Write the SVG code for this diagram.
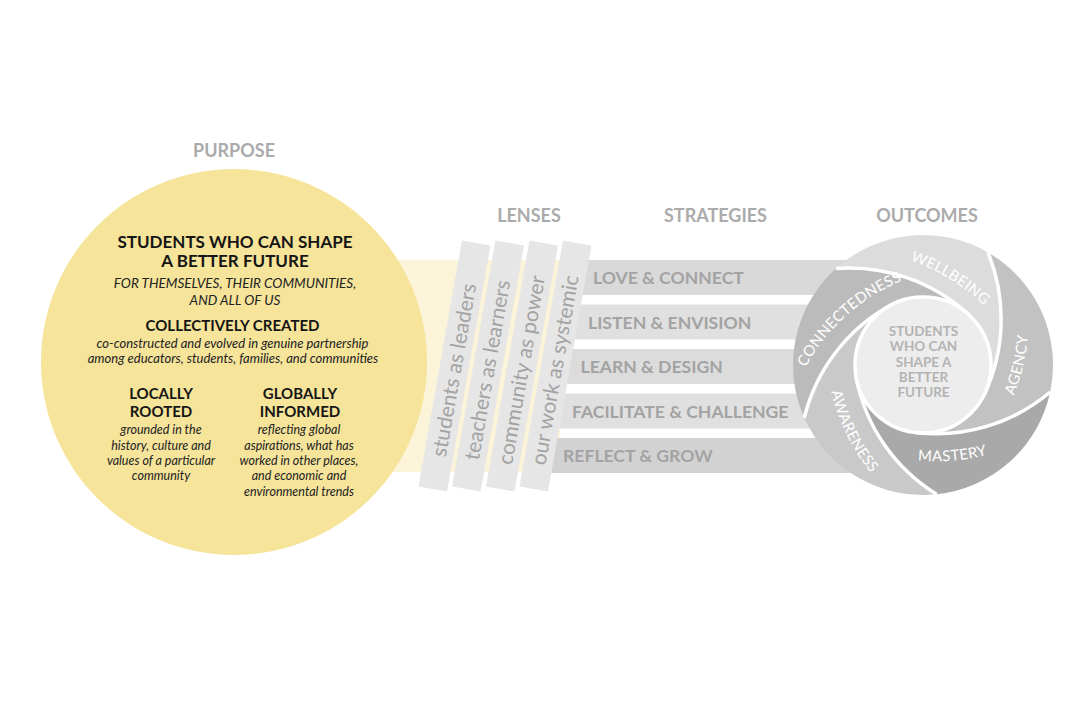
<svg xmlns="http://www.w3.org/2000/svg" width="1090" height="727" viewBox="0 0 1090 727">
<style>
text{font-family:Lato,"Open Sans","Liberation Sans",sans-serif}
.hdr{font-size:18px;font-weight:700;fill:#ABABAB;text-anchor:middle}
.t1{font-size:17px;font-weight:700;fill:#151515;text-anchor:middle}
.t2{font-size:15px;font-weight:700;fill:#151515;text-anchor:middle}
.it{font-style:italic;fill:#222;text-anchor:middle}
.lens rect{fill:#E6E6E6}
.lens text{font-size:21px;fill:#A3A3A3;text-anchor:middle}
.strat text{font-size:17.6px;font-weight:700;fill:#A3A3A3}
.lbl{font-size:15px;fill:#fff;letter-spacing:0.3px}
.sep{fill:none;stroke:#fff;stroke-width:3.5}
.ctr{font-size:13.5px;font-weight:700;fill:#B3B3B3;text-anchor:middle}
</style>
<defs>
<path id="blade" d="M -86.99 -96.61 A 130 130 0 0 1 65 -112.58 A 176.3 176.3 0 0 1 61.63 28.74 A 68 68 0 0 0 46.38 -49.73 A 176.3 176.3 0 0 0 -86.99 -96.61 Z"/>
<path id="sepl" d="M 65 -112.58 A 176.3 176.3 0 0 1 61.63 28.74"/>
<path id="tpN" d="M -69.37 -114.24 A 193.5 193.5 0 0 1 95.92 -13.62"/>
<path id="tpF" d="M 104.69 -18.42 A 204 204 0 0 0 -69.14 -124.74"/>
</defs>
<rect width="1090" height="727" fill="#fff"/>

<g id="headers">
<text class="hdr" x="234" y="157">PURPOSE</text>
<text class="hdr" x="529" y="222">LENSES</text>
<text class="hdr" x="715.5" y="222">STRATEGIES</text>
<text class="hdr" x="927" y="222">OUTCOMES</text>
</g>

<g id="connectors">
<rect x="300" y="260" width="260" height="212" fill="#FBF4D8"/>
</g>

<g id="purpose">
<circle cx="234" cy="362" r="193" fill="#F5E49A"/>
<text class="t1" x="235" y="248">STUDENTS WHO CAN SHAPE</text>
<text class="t1" x="235" y="267">A BETTER FUTURE</text>
<text class="it" font-size="13.5" x="235" y="288">FOR THEMSELVES, THEIR COMMUNITIES,</text>
<text class="it" font-size="13.5" x="235" y="305">AND ALL OF US</text>
<text class="t2" x="232.5" y="331">COLLECTIVELY CREATED</text>
<text class="it" font-size="13" x="232.5" y="348">co-constructed and evolved in genuine partnership</text>
<text class="it" font-size="13" x="233" y="363">among educators, students, families, and communities</text>
<text class="t2" x="161" y="399">LOCALLY</text>
<text class="t2" x="161" y="417">ROOTED</text>
<text class="it" font-size="12.5" x="161" y="434">grounded in the</text>
<text class="it" font-size="12.5" x="161" y="450">history, culture and</text>
<text class="it" font-size="12.5" x="161" y="465">values of a particular</text>
<text class="it" font-size="12.5" x="161" y="480">community</text>
<text class="t2" x="300" y="399">GLOBALLY</text>
<text class="t2" x="300" y="417">INFORMED</text>
<text class="it" font-size="12.5" x="299" y="434">reflecting global</text>
<text class="it" font-size="12.5" x="299" y="450">aspirations, what has</text>
<text class="it" font-size="12.5" x="299" y="465">worked in other places,</text>
<text class="it" font-size="12.5" x="299" y="480">and economic and</text>
<text class="it" font-size="12.5" x="299" y="495.5">environmental trends</text>
</g>

<g id="strategies" class="strat">
<g id="s1"><rect x="565" y="260" width="335" height="35" fill="#D9D9D9"/><text x="593" y="284">LOVE &amp; CONNECT</text></g>
<g id="s2"><rect x="557" y="304.5" width="343" height="35" fill="#E0E0E0"/><text x="588" y="328.5">LISTEN &amp; ENVISION</text></g>
<g id="s3"><rect x="549" y="349" width="351" height="35" fill="#DCDCDC"/><text x="580.5" y="373">LEARN &amp; DESIGN</text></g>
<g id="s4"><rect x="541" y="393.5" width="359" height="35" fill="#E0E0E0"/><text x="572" y="417.5">FACILITATE &amp; CHALLENGE</text></g>
<g id="s5"><rect x="533" y="438" width="367" height="35" fill="#D2D2D2"/><text x="563" y="462">REFLECT &amp; GROW</text></g>
</g>

<g id="lenses" class="lens">
<g id="l1"><rect x="-14.5" y="-125" width="29" height="250" transform="translate(454.5,366) rotate(10)"/><text transform="translate(453.8,370) rotate(-80)" dy="0.35em">students as leaders</text></g>
<g id="l2"><rect x="-14.5" y="-125" width="29" height="250" transform="translate(488,366) rotate(10)"/><text transform="translate(487.3,370) rotate(-80)" dy="0.35em">teachers as learners</text></g>
<g id="l3"><rect x="-14.5" y="-125" width="29" height="250" transform="translate(522,366) rotate(10)"/><text transform="translate(521.3,370) rotate(-80)" dy="0.35em">community as power</text></g>
<g id="l4"><rect x="-14.5" y="-125" width="29" height="250" transform="translate(555.5,366) rotate(10)"/><text transform="translate(554.8,370) rotate(-80)" dy="0.35em">our work as systemic</text></g>
</g>

<g id="outcomes" transform="translate(923,365)">
<g id="wellbeing"><use href="#blade" fill="#DCDCDC"/><text class="lbl"><textPath href="#tpN" startOffset="50%" text-anchor="middle">WELLBEING</textPath></text></g>
<g id="agency" transform="rotate(72)"><use href="#blade" fill="#C2C2C2"/><text class="lbl"><textPath href="#tpF" startOffset="50%" text-anchor="middle">AGENCY</textPath></text></g>
<g id="mastery" transform="rotate(144)"><use href="#blade" fill="#A9A9A9"/><text class="lbl"><textPath href="#tpF" startOffset="50%" text-anchor="middle">MASTERY</textPath></text></g>
<g id="awareness" transform="rotate(216)"><use href="#blade" fill="#C9C9C9"/><text class="lbl"><textPath href="#tpF" startOffset="56%" text-anchor="middle">AWARENESS</textPath></text></g>
<g id="connectedness" transform="rotate(288)"><use href="#blade" fill="#BBBBBB"/><text class="lbl"><textPath href="#tpN" startOffset="48%" text-anchor="middle">CONNECTEDNESS</textPath></text></g>
<g id="separators">
<use href="#sepl" class="sep"/>
<use href="#sepl" class="sep" transform="rotate(72)"/>
<use href="#sepl" class="sep" transform="rotate(144)"/>
<use href="#sepl" class="sep" transform="rotate(216)"/>
<use href="#sepl" class="sep" transform="rotate(288)"/>
</g>
<g id="center">
<circle r="68" fill="#EDEDED" stroke="#fff" stroke-width="3.5"/>
<text class="ctr" x="0.5" y="-29">STUDENTS</text>
<text class="ctr" x="0.5" y="-13.7">WHO CAN</text>
<text class="ctr" x="0.5" y="1.6">SHAPE A</text>
<text class="ctr" x="0.5" y="16.9">BETTER</text>
<text class="ctr" x="0.5" y="32.2">FUTURE</text>
</g>
</g>
</svg>
